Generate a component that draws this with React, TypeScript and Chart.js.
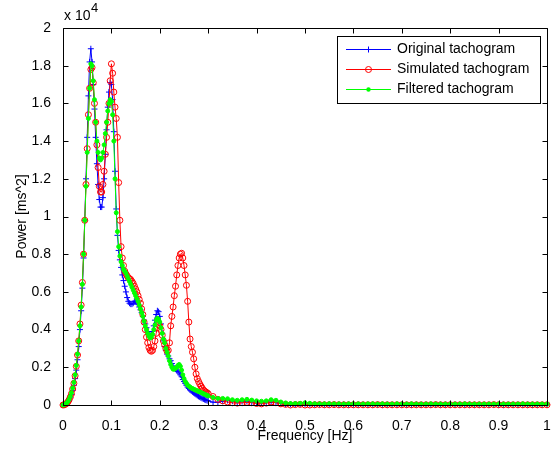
import React, { useEffect, useRef } from "react";
import { Chart, registerables } from "chart.js";

Chart.register(...registerables);

// Frequency grid [Hz]
const FREQ = [
  0, 0.0025, 0.005, 0.0075, 0.01, 0.0125, 0.015, 0.0175, 0.02, 0.0225,
  0.025, 0.0275, 0.03, 0.0325, 0.035, 0.0375, 0.04, 0.0425, 0.045, 0.0475,
  0.05, 0.0525, 0.055, 0.0575, 0.06, 0.0625, 0.065, 0.0675, 0.07, 0.0725,
  0.075, 0.0775, 0.08, 0.0825, 0.085, 0.0875, 0.09, 0.0925, 0.095, 0.0975,
  0.1, 0.1025, 0.105, 0.1075, 0.11, 0.1125, 0.115, 0.1175, 0.12, 0.1225,
  0.125, 0.1275, 0.13, 0.1325, 0.135, 0.1375, 0.14, 0.1425, 0.145, 0.1475,
  0.15, 0.1525, 0.155, 0.1575, 0.16, 0.1625, 0.165, 0.1675, 0.17, 0.1725,
  0.175, 0.1775, 0.18, 0.1825, 0.185, 0.1875, 0.19, 0.1925, 0.195, 0.1975,
  0.2, 0.2025, 0.205, 0.2075, 0.21, 0.2125, 0.215, 0.2175, 0.22, 0.2225,
  0.225, 0.2275, 0.23, 0.2325, 0.235, 0.2375, 0.24, 0.2425, 0.245, 0.2475,
  0.25, 0.2525, 0.255, 0.2575, 0.26, 0.2625, 0.265, 0.2675, 0.27, 0.2725,
  0.275, 0.2775, 0.28, 0.2825, 0.285, 0.2875, 0.29, 0.2925, 0.295, 0.2975,
  0.3,
  0.31, 0.32, 0.33, 0.34, 0.35, 0.36, 0.37, 0.38, 0.39, 0.4,
  0.41, 0.42, 0.43, 0.44, 0.45, 0.46, 0.47, 0.48, 0.49, 0.5,
  0.51, 0.52, 0.53, 0.54, 0.55, 0.56, 0.57, 0.58, 0.59, 0.6,
  0.61, 0.62, 0.63, 0.64, 0.65, 0.66, 0.67, 0.68, 0.69, 0.7,
  0.71, 0.72, 0.73, 0.74, 0.75, 0.76, 0.77, 0.78, 0.79, 0.8,
  0.81, 0.82, 0.83, 0.84, 0.85, 0.86, 0.87, 0.88, 0.89, 0.9,
  0.91, 0.92, 0.93, 0.94, 0.95, 0.96, 0.97, 0.98, 0.99, 1.0,
];

// Power [ms^2] in units of 10^4
const ORIGINAL = [
  0, 0.001, 0.004, 0.008, 0.015, 0.025, 0.038, 0.055, 0.078, 0.105,
  0.14, 0.185, 0.24, 0.31, 0.4, 0.5, 0.62, 0.78, 0.98, 1.2,
  1.42, 1.64, 1.82, 1.89, 1.82, 1.7, 1.57, 1.42, 1.28, 1.17,
  1.09, 1.05, 1.05, 1.1, 1.2, 1.33, 1.46, 1.58, 1.66, 1.71,
  1.7, 1.62, 1.45, 1.24, 1.04, 0.9, 0.82, 0.77, 0.73, 0.69,
  0.66, 0.63, 0.6, 0.57, 0.55, 0.54, 0.535, 0.535, 0.54, 0.55,
  0.55, 0.545, 0.535, 0.52, 0.505, 0.49, 0.47, 0.45, 0.43, 0.41,
  0.39, 0.375, 0.37, 0.375, 0.39, 0.42, 0.45, 0.48, 0.5, 0.495,
  0.47, 0.43, 0.38, 0.34, 0.31, 0.29, 0.27, 0.26, 0.245, 0.235,
  0.22, 0.205, 0.195, 0.19, 0.185, 0.178, 0.17, 0.16, 0.15, 0.135,
  0.125, 0.115, 0.105, 0.095, 0.088, 0.08, 0.075, 0.07, 0.065, 0.06,
  0.055, 0.05, 0.046, 0.042, 0.038, 0.035, 0.032, 0.029, 0.026, 0.024,
  0.022,
  0.015, 0.014, 0.02, 0.024, 0.02, 0.015, 0.018, 0.02, 0.016, 0.012,
  0.01, 0.012, 0.016, 0.013, 0.008, 0.005, 0.004, 0.004, 0.005, 0.006,
  0.004, 0.003, 0.003, 0.002, 0.003, 0.002, 0.002, 0.003, 0.002, 0.002,
  0.002, 0.002, 0.001, 0.002, 0.002, 0.001, 0.002, 0.001, 0.001, 0.002,
  0.001, 0.001, 0.002, 0.001, 0.001, 0.001, 0.001, 0.002, 0.001, 0.001,
  0.001, 0.001, 0.001, 0.002, 0.001, 0.001, 0.001, 0.001, 0.001, 0.001,
  0.001, 0.001, 0.001, 0.001, 0.001, 0.002, 0.001, 0.001, 0.001, 0.001,
];

const SIMULATED = [
  0, 0.001, 0.004, 0.009, 0.016, 0.027, 0.042, 0.06, 0.085, 0.115,
  0.155, 0.205, 0.265, 0.34, 0.43, 0.53, 0.65, 0.8, 0.98, 1.17,
  1.36, 1.54, 1.68, 1.78, 1.79, 1.71, 1.6, 1.5, 1.38, 1.26,
  1.16, 1.13, 1.13, 1.17, 1.24, 1.33, 1.42, 1.5, 1.6, 1.72,
  1.81, 1.76, 1.66, 1.58, 1.52, 1.42, 1.18, 0.98, 0.84, 0.78,
  0.74, 0.71, 0.695, 0.685, 0.675, 0.67, 0.665, 0.655, 0.645, 0.63,
  0.615, 0.6, 0.58, 0.56, 0.54, 0.51, 0.48, 0.44, 0.4, 0.36,
  0.33, 0.305, 0.29, 0.285, 0.29, 0.31, 0.34, 0.38, 0.41, 0.425,
  0.42, 0.4, 0.37, 0.34, 0.32, 0.3, 0.285, 0.29, 0.33, 0.42,
  0.47, 0.52, 0.58, 0.63, 0.69, 0.74, 0.78, 0.8, 0.805, 0.78,
  0.74, 0.69, 0.635, 0.55, 0.44, 0.35, 0.31, 0.28, 0.245, 0.2,
  0.165, 0.14, 0.125, 0.112, 0.1, 0.09, 0.08, 0.074, 0.069, 0.065,
  0.06,
  0.045, 0.03, 0.022, 0.016, 0.012, 0.01, 0.012, 0.014, 0.012, 0.008,
  0.006, 0.01, 0.016, 0.012, 0.006, 0.003, 0, 0.002, 0.003, 0,
  0, 0.001, 0.002, 0.001, 0.001, 0.002, 0.001, 0.001, 0.001, 0.001,
  0.001, 0.001, 0.001, 0.001, 0.002, 0.001, 0.001, 0.001, 0.001, 0.001,
  0.001, 0.001, 0.001, 0.001, 0.001, 0.001, 0.002, 0.001, 0.001, 0.001,
  0.001, 0.001, 0.001, 0.001, 0.001, 0.001, 0.001, 0.001, 0.002, 0.001,
  0.001, 0.001, 0.001, 0.001, 0.001, 0.001, 0.001, 0.001, 0.001, 0.001,
];

const FILTERED = [
  0, 0.002, 0.005, 0.01, 0.018, 0.03, 0.045, 0.065, 0.09, 0.12,
  0.16, 0.21, 0.27, 0.34, 0.42, 0.52, 0.64, 0.8, 0.98, 1.16,
  1.34, 1.52, 1.68, 1.81, 1.8, 1.72, 1.62, 1.5, 1.4, 1.34,
  1.31, 1.3, 1.31, 1.34, 1.38, 1.44, 1.5, 1.56, 1.6, 1.62,
  1.61, 1.54, 1.4, 1.2, 1.02, 0.92, 0.84, 0.79, 0.76, 0.74,
  0.72, 0.71, 0.7, 0.685, 0.67, 0.655, 0.64, 0.625, 0.61, 0.595,
  0.58, 0.565, 0.55, 0.53, 0.51, 0.49, 0.47, 0.445, 0.42, 0.4,
  0.38, 0.365, 0.355, 0.36, 0.375, 0.4, 0.425, 0.45, 0.46, 0.455,
  0.44, 0.41, 0.38, 0.35, 0.33, 0.3, 0.28, 0.26, 0.235, 0.215,
  0.2, 0.19, 0.19, 0.195, 0.2, 0.21, 0.215, 0.205, 0.185, 0.16,
  0.14, 0.125, 0.115, 0.105, 0.1, 0.095, 0.09, 0.087, 0.084, 0.081,
  0.078, 0.075, 0.072, 0.069, 0.066, 0.063, 0.06, 0.057, 0.054, 0.051,
  0.048,
  0.04, 0.035, 0.035, 0.033, 0.028, 0.025, 0.028, 0.03, 0.026, 0.022,
  0.02, 0.022, 0.028, 0.025, 0.016, 0.011, 0.008, 0.008, 0.009, 0.012,
  0.009, 0.007, 0.006, 0.006, 0.007, 0.006, 0.006, 0.005, 0.006, 0.006,
  0.006, 0.005, 0.006, 0.006, 0.005, 0.006, 0.005, 0.005, 0.006, 0.005,
  0.005, 0.006, 0.005, 0.005, 0.005, 0.006, 0.005, 0.005, 0.005, 0.005,
  0.005, 0.005, 0.006, 0.005, 0.005, 0.005, 0.005, 0.005, 0.005, 0.005,
  0.005, 0.005, 0.005, 0.005, 0.006, 0.005, 0.005, 0.005, 0.005, 0.005,
];

const SERIES_NAMES = ["Original tachogram", "Simulated tachogram", "Filtered tachogram"];
const X_TICKS = ["0", "0.1", "0.2", "0.3", "0.4", "0.5", "0.6", "0.7", "0.8", "0.9", "1"];
const Y_TICKS = ["0", "0.2", "0.4", "0.6", "0.8", "1", "1.2", "1.4", "1.6", "1.8", "2"];
const X_TITLE = "Frequency [Hz]";
const Y_TITLE = "Power [ms^2]";
const EXP_BASE = "x 10";
const EXP_POWER = "4";

const FONT = "'Liberation Sans', Arial, Helvetica, sans-serif";
const FS = 14;

const toPoints = (ys: number[]) => FREQ.map((f, i) => ({ x: f, y: ys[i] }));

function drawMarker(ctx: CanvasRenderingContext2D, style: string, x: number, y: number, color: string) {
  ctx.save();
  ctx.strokeStyle = color;
  ctx.fillStyle = color;
  ctx.lineWidth = 1;
  if (style === "cross") {
    ctx.beginPath();
    ctx.moveTo(x - 3, y);
    ctx.lineTo(x + 3, y);
    ctx.moveTo(x, y - 3);
    ctx.lineTo(x, y + 3);
    ctx.stroke();
  } else if (style === "ring") {
    ctx.beginPath();
    ctx.arc(x, y, 3, 0, Math.PI * 2);
    ctx.stroke();
  } else {
    ctx.beginPath();
    ctx.arc(x, y, 2.2, 0, Math.PI * 2);
    ctx.fill();
  }
  ctx.restore();
}

const framePlugin = {
  id: "matlabFrame",
  afterDatasetsDraw(chart: any) {
    const { ctx, chartArea: a, scales } = chart;
    const xs = scales.x;
    const ys = scales.y;
    ctx.save();
    ctx.strokeStyle = "#000";
    ctx.lineWidth = 1;
    const L = Math.round(a.left) + 0.5;
    const R = Math.round(a.right) + 0.5;
    const T = Math.round(a.top) + 0.5;
    const B = Math.round(a.bottom) + 0.5;
    ctx.beginPath();
    ctx.rect(L, T, R - L, B - T);
    X_TICKS.forEach((lbl) => {
      const px = Math.round(xs.getPixelForValue(parseFloat(lbl))) + 0.5;
      ctx.moveTo(px, B);
      ctx.lineTo(px, B - 5);
      ctx.moveTo(px, T);
      ctx.lineTo(px, T + 5);
    });
    Y_TICKS.forEach((lbl) => {
      const py = Math.round(ys.getPixelForValue(parseFloat(lbl))) + 0.5;
      ctx.moveTo(L, py);
      ctx.lineTo(L + 5, py);
      ctx.moveTo(R, py);
      ctx.lineTo(R - 5, py);
    });
    ctx.stroke();
    ctx.restore();
  },
  afterDraw(chart: any) {
    const { ctx, chartArea: a } = chart;
    ctx.save();
    // exponent label
    ctx.fillStyle = "#000";
    ctx.font = `${FS}px ${FONT}`;
    ctx.textAlign = "left";
    ctx.textBaseline = "alphabetic";
    const ex = Math.round(a.left) + 1;
    ctx.fillText(EXP_BASE, ex, Math.round(a.top) - 8);
    const w = ctx.measureText(EXP_BASE).width;
    ctx.font = `${FS - 1}px ${FONT}`;
    ctx.fillText(EXP_POWER, ex + w + 0.5, Math.round(a.top) - 16);

    // legend box
    const boxW = 203;
    const boxH = 67;
    const boxR = Math.round(a.right) - 7;
    const boxT = Math.round(a.top) + 8;
    const boxL = boxR - boxW;
    ctx.fillStyle = "#fff";
    ctx.fillRect(boxL + 0.5, boxT + 0.5, boxW, boxH);
    ctx.strokeStyle = "#000";
    ctx.lineWidth = 1;
    ctx.strokeRect(boxL + 0.5, boxT + 0.5, boxW, boxH);
    const styles = ["cross", "ring", "dot"];
    chart.data.datasets.forEach((ds: any, i: number) => {
      const y = boxT + 13 + i * 20 + 0.5;
      ctx.strokeStyle = ds.borderColor;
      ctx.lineWidth = 1;
      ctx.beginPath();
      ctx.moveTo(boxL + 9, y);
      ctx.lineTo(boxL + 54, y);
      ctx.stroke();
      drawMarker(ctx, styles[i], boxL + 31.5, y, ds.borderColor);
      ctx.fillStyle = "#000";
      ctx.font = `${FS}px ${FONT}`;
      ctx.textBaseline = "middle";
      ctx.fillText(SERIES_NAMES[i], boxL + 60, y);
    });
    ctx.restore();
  },
};

export default function App() {
  const canvasRef = useRef<HTMLCanvasElement | null>(null);

  useEffect(() => {
    const canvas = canvasRef.current;
    if (!canvas) return;
    const chart = new Chart(canvas, {
      type: "line",
      data: {
        datasets: [
          {
            label: SERIES_NAMES[0],
            data: toPoints(ORIGINAL),
            borderColor: "#0000ff",
            backgroundColor: "#0000ff",
            borderWidth: 1,
            pointStyle: "cross",
            pointRadius: 3,
            pointBorderWidth: 1,
            pointBorderColor: "#0000ff",
            order: 3,
            clip: 6,
          },
          {
            label: SERIES_NAMES[1],
            data: toPoints(SIMULATED),
            borderColor: "#ff0000",
            backgroundColor: "rgba(0,0,0,0)",
            borderWidth: 1,
            pointStyle: "circle",
            pointRadius: 3,
            pointBorderWidth: 1,
            pointBorderColor: "#ff0000",
            pointBackgroundColor: "rgba(0,0,0,0)",
            order: 2,
            clip: 6,
          },
          {
            label: SERIES_NAMES[2],
            data: toPoints(FILTERED),
            borderColor: "#00ff00",
            backgroundColor: "#00ff00",
            borderWidth: 1,
            pointStyle: "circle",
            pointRadius: 2,
            pointBorderWidth: 1,
            pointBorderColor: "#00ff00",
            pointBackgroundColor: "#00ff00",
            order: 1,
            clip: 6,
          },
        ],
      },
      options: {
        responsive: false,
        animation: false,
        events: [],
        layout: { padding: { left: 0, top: 28, right: 4, bottom: 0 } },
        plugins: {
          legend: { display: false },
          tooltip: { enabled: false },
        },
        scales: {
          x: {
            type: "linear",
            min: 0,
            max: 1,
            grid: { display: false },
            border: { display: false },
            ticks: {
              stepSize: 0.1,
              autoSkip: false,
              maxRotation: 0,
              padding: 5,
              color: "#000",
              font: { family: FONT, size: FS },
              callback: (v: any) => X_TICKS[Math.round(Number(v) * 10)],
            },
            title: {
              display: true,
              text: X_TITLE,
              color: "#000",
              font: { family: FONT, size: FS },
              padding: { top: 0, bottom: 4 },
            },
            afterFit: (scale: any) => {
              scale.height = 44;
              scale.paddingLeft = 0;
              scale.paddingRight = 0;
            },
          },
          y: {
            type: "linear",
            min: 0,
            max: 2,
            grid: { display: false },
            border: { display: false },
            ticks: {
              stepSize: 0.2,
              autoSkip: false,
              padding: 4,
              color: "#000",
              font: { family: FONT, size: FS },
              callback: (v: any) => Y_TICKS[Math.round(Number(v) * 5)],
            },
            title: {
              display: true,
              text: Y_TITLE,
              color: "#000",
              font: { family: FONT, size: FS },
              padding: { top: 14, bottom: 0 },
            },
            afterFit: (scale: any) => {
              scale.width = 63;
              scale.paddingTop = 0;
              scale.paddingBottom = 0;
            },
          },
        },
      },
      plugins: [framePlugin],
    });
    return () => chart.destroy();
  }, []);

  return (
    <div style={{ position: "absolute", left: 0, top: 0, width: 552, height: 449, background: "#fff" }}>
      <canvas ref={canvasRef} width={552} height={449} />
    </div>
  );
}
